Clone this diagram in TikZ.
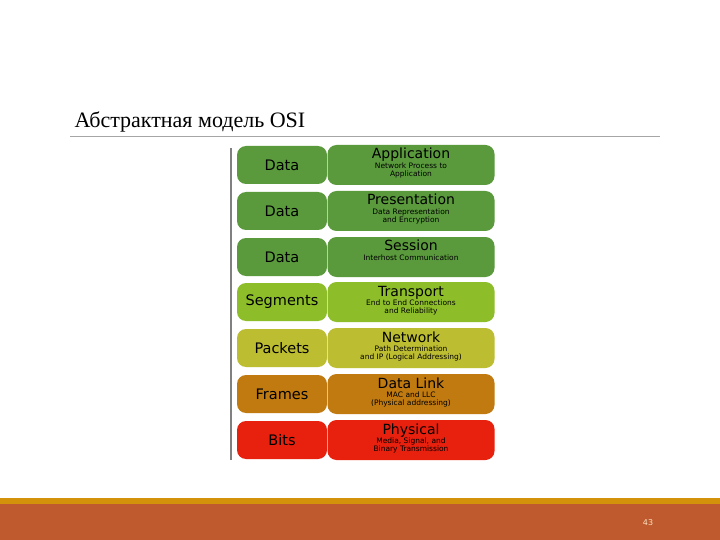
\documentclass[tikz,border=0pt]{standalone}
\usepackage{fontspec}
\setmainfont{Liberation Serif}
\newfontfamily\djsans{DejaVu Sans}
\begin{document}
\begin{tikzpicture}[x=1pt,y=-1pt,
 lbox/.style={rounded corners=9pt,minimum width=90pt,minimum height=38pt,inner sep=0pt,font=\djsans\fontsize{14.5}{16}\selectfont},
 rbox/.style={rounded corners=9pt,minimum width=167pt,minimum height=40pt,inner sep=0pt,align=center,font=\djsans\fontsize{7.5}{8.5}\selectfont},
 ttl/.style={font=\djsans\fontsize{14}{14}\selectfont,inner sep=0pt}]
\useasboundingbox (0,0) rectangle (720,540);
\fill[white] (0,0) rectangle (720,540);
\node[anchor=base west,font=\fontsize{22}{22}\selectfont] (title) at (71,128) {Абстрактная модель OSI};
\draw[gray!70] (70,136) -- (660,136);
\fill[fill={rgb,255:red,212;green,146;blue,10}] (0,498) rectangle (720,504);
\fill[fill={rgb,255:red,190;green,90;blue,46}] (0,504) rectangle (720,540);
\node[text={rgb,255:red,250;green,225;blue,190},font=\djsans\fontsize{8}{8}\selectfont] (pg) at (648,523) {43};
\draw[gray,line width=1.5pt] (231,148) -- (231,460);
\foreach \i/\y/\l/\t/\s/\c in {
 1/165/Data/Application/{Network Process to\\Application}/{90,154,60},
 2/211/Data/Presentation/{Data Representation\\and Encryption}/{90,154,60},
 3/257/Data/Session/{Interhost Communication}/{90,154,60},
 4/302/Segments/Transport/{End to End Connections\\and Reliability}/{141,190,42},
 5/348/Packets/Network/{Path Determination\\and IP (Logical Addressing)}/{189,189,50},
 6/394/Frames/Data Link/{MAC and LLC\\(Physical addressing)}/{192,122,16},
 7/440/Bits/Physical/{Media, Signal, and\\Binary Transmission}/{232,32,14}}{
 \definecolor{c\i}{RGB}{\c}
 \node[lbox,fill=c\i] (l\i) at (282,\y) {\l};
 \node[rbox,fill=c\i] (r\i) at (411,\y) {};
 \node[ttl,anchor=base] (t\i) at (411,\y-6) {\t};
 \node[rbox,fill=none,anchor=north,minimum height=0pt,minimum width=0pt,inner sep=0pt] (s\i) at (411,\y-2.5) {\s};
}
\end{tikzpicture}
\end{document}
